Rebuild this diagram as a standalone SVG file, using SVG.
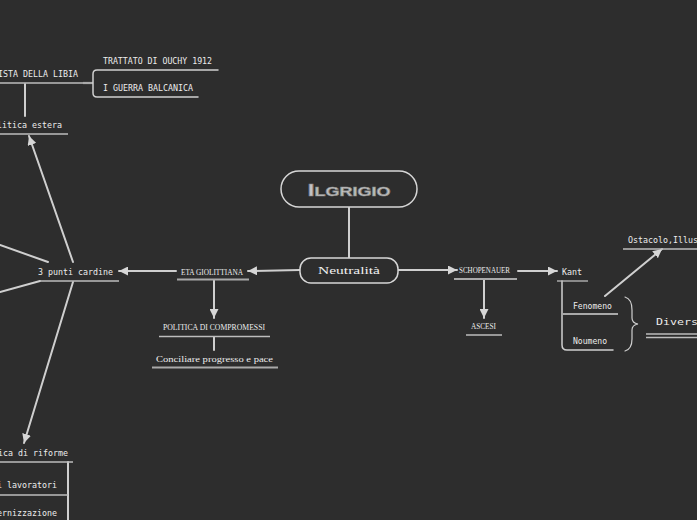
<svg xmlns="http://www.w3.org/2000/svg" width="697" height="520" viewBox="0 0 697 520">
<style>
.bg{fill:#2d2d2d}
.ln{stroke:#cfcfcf;stroke-width:2;fill:none;stroke-linecap:round}
.ul{stroke:#bdbdbd;stroke-width:1.3;fill:none}
.ulb{stroke:#a9a9a9;stroke-width:2.2;fill:none}
.m{font-family:"DejaVu Sans Mono","Liberation Mono",monospace;font-size:8.3px;fill:#ececec;dominant-baseline:central}
.s{font-family:"Liberation Serif","DejaVu Serif",serif;font-size:8.5px;fill:#ececec;dominant-baseline:central}
.box{fill:#2d2d2d;stroke:#d6d6d6;stroke-width:1.5}
</style>
<defs>
<marker id="arr" viewBox="0 0 10 10" refX="10" refY="5" markerWidth="9" markerHeight="9" markerUnits="userSpaceOnUse" orient="auto">
<path d="M0,0 L10,5 L0,10 z" fill="#d6d6d6"/>
</marker>
</defs>
<rect class="bg" x="0" y="0" width="697" height="520"/>

<g id="connectors">
<line class="ln" x1="349" y1="207" x2="349" y2="258"/>
<line class="ln" x1="300" y1="270" x2="248" y2="271" marker-end="url(#arr)"/>
<line class="ln" x1="176" y1="271" x2="119" y2="271" marker-end="url(#arr)"/>
<line class="ln" x1="214" y1="280" x2="214" y2="318" marker-end="url(#arr)"/>
<line class="ln" x1="214" y1="337" x2="214" y2="350"/>
<line class="ln" x1="398" y1="270" x2="457" y2="270" marker-end="url(#arr)"/>
<line class="ln" x1="518" y1="271" x2="557" y2="271" marker-end="url(#arr)"/>
<line class="ln" x1="484" y1="280" x2="484" y2="318" marker-end="url(#arr)"/>
<line class="ln" x1="605" y1="296" x2="662" y2="249" marker-end="url(#arr)"/>
<line class="ln" x1="73" y1="262" x2="29" y2="136" marker-end="url(#arr)"/>
<line class="ln" x1="73" y1="282" x2="24" y2="443" marker-end="url(#arr)"/>
<line class="ln" x1="0" y1="245" x2="48" y2="262"/>
<line class="ln" x1="0" y1="292" x2="40" y2="281"/>
<line class="ln" x1="25" y1="84" x2="25" y2="116"/>
<path class="ulb" d="M83,83 H93"/>
<path class="ln" style="stroke-width:1.5" d="M218,70 H97 Q93,70 93,74 V93 Q93,97 97,97 H198"/>
<path class="ln" style="stroke-width:1.5" d="M562,281 V345 Q562,350 567,350 H613"/>
<path class="ulb" d="M562,314 H618"/>
<path class="ln" style="stroke-width:2" d="M68,462 V520"/>
<path class="ln" style="stroke-width:1.2" d="M625,297 Q632,299 632,310 L632,318 Q632,323 638,324 Q632,325 632,330 L632,339 Q632,349 625,351"/>
</g>

<g id="title">
<rect class="box" x="281" y="171" width="136" height="36" rx="18"/>
<text x="349" y="190" text-anchor="middle" dominant-baseline="central" font-family="Liberation Sans, sans-serif" font-weight="bold" font-size="17" font-variant="small-caps" fill="#c4c4c4" stroke="#8a8a8a" stroke-width="0.6" textLength="83" lengthAdjust="spacingAndGlyphs">Ilgrigio</text>
</g>

<g id="neutralita">
<rect class="box" x="300" y="258" width="98" height="25" rx="11"/>
<text x="349" y="270" text-anchor="middle" dominant-baseline="central" font-family="Liberation Serif, serif" font-size="11" fill="#f0f0f0" textLength="62" lengthAdjust="spacingAndGlyphs">Neutralità</text>
</g>

<g id="eta">
<text class="s" x="181" y="271.5" textLength="62" lengthAdjust="spacingAndGlyphs">ETA GIOLITTIANA</text>
<line class="ulb" x1="177" y1="279.5" x2="249" y2="279.5"/>
</g>

<g id="politica-compromessi">
<text class="s" x="163" y="327" textLength="102" lengthAdjust="spacingAndGlyphs">POLITICA DI COMPROMESSI</text>
<line class="ul" x1="159" y1="336.5" x2="270" y2="336.5"/>
</g>

<g id="conciliare">
<text class="s" x="156" y="359" font-size="9" textLength="117" lengthAdjust="spacingAndGlyphs">Conciliare progresso e pace</text>
<line class="ulb" x1="152" y1="367.5" x2="278" y2="367.5"/>
</g>

<g id="schopenauer">
<text class="s" x="459" y="270" textLength="51" lengthAdjust="spacingAndGlyphs">SCHOPENAUER</text>
<line class="ulb" x1="454" y1="279" x2="517" y2="279"/>
</g>

<g id="ascesi">
<text class="s" x="471" y="326" textLength="25" lengthAdjust="spacingAndGlyphs">ASCESI</text>
<line class="ul" x1="466" y1="335" x2="502" y2="335"/>
</g>

<g id="kant">
<text class="m" x="562" y="271.5" textLength="20" lengthAdjust="spacingAndGlyphs">Kant</text>
<line class="ul" x1="557" y1="281" x2="588" y2="281"/>
</g>

<g id="fenomeno">
<text class="m" x="573" y="306" textLength="39" lengthAdjust="spacingAndGlyphs">Fenomeno</text>
</g>

<g id="noumeno">
<text class="m" x="573" y="341" textLength="34" lengthAdjust="spacingAndGlyphs">Noumeno</text>
</g>

<g id="ostacolo">
<text class="m" x="628" y="240" textLength="90" lengthAdjust="spacingAndGlyphs">Ostacolo,Illusione</text>
<line class="ul" x1="623" y1="249" x2="697" y2="249"/>
</g>

<g id="diversita">
<text class="m" x="656" y="322" font-size="12" textLength="63" lengthAdjust="spacingAndGlyphs">Diversità</text>
<line class="ul" x1="646" y1="334" x2="697" y2="334"/>
<line class="ul" x1="646" y1="337.5" x2="697" y2="337.5"/>
</g>

<g id="tre-punti">
<text class="m" x="38" y="271.5" textLength="75" lengthAdjust="spacingAndGlyphs">3 punti cardine</text>
<line class="ul" x1="40" y1="281" x2="119" y2="281"/>
</g>

<g id="politica-estera">
<text class="m" x="62" y="125" text-anchor="end" textLength="75" lengthAdjust="spacingAndGlyphs">Politica estera</text>
<line class="ul" x1="0" y1="134" x2="68" y2="134"/>
</g>

<g id="libia">
<text class="m" x="78" y="74" text-anchor="end" textLength="105" lengthAdjust="spacingAndGlyphs">CONQUISTA DELLA LIBIA</text>
<line class="ul" x1="0" y1="83" x2="83" y2="83"/>
</g>

<g id="ouchy">
<text class="m" x="103" y="61" textLength="109" lengthAdjust="spacingAndGlyphs">TRATTATO DI OUCHY 1912</text>
</g>

<g id="balcanica">
<text class="m" x="103" y="88" textLength="90" lengthAdjust="spacingAndGlyphs">I GUERRA BALCANICA</text>
</g>

<g id="riforme">
<text class="m" x="68" y="453" text-anchor="end" textLength="95" lengthAdjust="spacingAndGlyphs">Politica di riforme</text>
<line class="ul" x1="0" y1="462" x2="73" y2="462"/>
</g>

<g id="lavoratori">
<text class="m" x="57" y="485" text-anchor="end" textLength="60" lengthAdjust="spacingAndGlyphs">i lavoratori</text>
<line class="ul" x1="0" y1="495" x2="68" y2="495"/>
</g>

<g id="modernizzazione">
<text class="m" x="57" y="513" text-anchor="end" textLength="75" lengthAdjust="spacingAndGlyphs">Modernizzazione</text>
</g>
</svg>
